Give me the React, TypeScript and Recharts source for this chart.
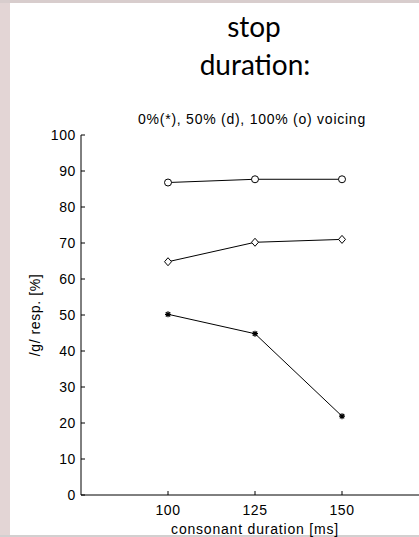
import React from "react";
import { LineChart, Line, XAxis, YAxis } from "recharts";

const durations = [100, 125, 150];
const voiced100 = [86.8, 87.7, 87.7];
const voiced50 = [64.8, 70.2, 71.0];
const voiced0 = [50.2, 44.8, 21.9];
const xTicks = [100, 125, 150];
const yTicks = [0, 10, 20, 30, 40, 50, 60, 70, 80, 90, 100];

const data = durations.map((d, i) => ({
  d,
  o: voiced100[i],
  dm: voiced50[i],
  s: voiced0[i],
}));

const FONT = "'Liberation Sans', Arial, sans-serif";

const CircleDot = (p: any) => (
  <circle key={`c${p.index}`} cx={p.cx} cy={p.cy} r={3.5} fill="#fff" stroke="#000" strokeWidth={1} />
);
const DiamondDot = (p: any) => (
  <path
    key={`d${p.index}`}
    d={`M${p.cx},${p.cy - 4} L${p.cx + 3.5},${p.cy} L${p.cx},${p.cy + 4} L${p.cx - 3.5},${p.cy} Z`}
    fill="#fff"
    stroke="#000"
    strokeWidth={1}
  />
);
const StarDot = (p: any) => {
  const r = 3;
  const q = 2.2;
  return (
    <path
      key={`s${p.index}`}
      d={`M${p.cx - r},${p.cy} L${p.cx + r},${p.cy} M${p.cx},${p.cy - r} L${p.cx},${p.cy + r} M${p.cx - q},${p.cy - q} L${p.cx + q},${p.cy + q} M${p.cx - q},${p.cy + q} L${p.cx + q},${p.cy - q}`}
      stroke="#000"
      strokeWidth={1.2}
      fill="none"
    />
  );
};

const YTick = (p: any) => (
  <g>
    <line x1={p.x} y1={p.y} x2={p.x + 4} y2={p.y} stroke="#000" strokeWidth={1} />
    <text x={p.x - 5} y={p.y + 5} textAnchor="end" fontSize={14} fontFamily={FONT} fill="#000" letterSpacing={0.6}>
      {p.payload.value}
    </text>
  </g>
);
const XTick = (p: any) => (
  <g>
    <line x1={p.x} y1={p.y} x2={p.x} y2={p.y - 4} stroke="#000" strokeWidth={1} />
    <text x={p.x} y={p.y + 20} textAnchor="middle" fontSize={14} fontFamily={FONT} fill="#000" letterSpacing={0.6}>
      {p.payload.value}
    </text>
  </g>
);

export default function App() {
  return (
    <div
      style={{
        position: "fixed",
        left: 0,
        top: 0,
        width: 419,
        height: 537,
        overflow: "hidden",
        background: "#fff",
      }}
    >
      <div style={{ position: "absolute", left: 0, top: 0, width: 10, height: 537, background: "#e3d5d5" }} />
      <div style={{ position: "absolute", left: 0, top: 0, width: 419, height: 3, background: "#d8cdcd" }} />
      <div style={{ position: "absolute", left: 0, top: 535, width: 419, height: 2, background: "#d2d0d0" }} />
      <div style={{ position: "absolute", left: 0, top: 0 }}>
        <LineChart width={440} height={537} data={data} margin={{ top: 135, right: 11, bottom: 0, left: 31 }}>
          <XAxis
            dataKey="d"
            type="number"
            domain={[75, 175]}
            ticks={xTicks}
            height={42}
            tickSize={0}
            tickMargin={0}
            tickLine={false}
            tick={XTick}
            axisLine={{ stroke: "#000", strokeWidth: 1 }}
            allowDataOverflow
          />
          <YAxis
            type="number"
            domain={[0, 100]}
            ticks={yTicks}
            width={50}
            tickSize={0}
            tickMargin={0}
            tickLine={false}
            tick={YTick}
            axisLine={{ stroke: "#000", strokeWidth: 1 }}
            interval={0}
          />
          <Line dataKey="o" stroke="#000" strokeWidth={1} dot={CircleDot} isAnimationActive={false} />
          <Line dataKey="dm" stroke="#000" strokeWidth={1} dot={DiamondDot} isAnimationActive={false} />
          <Line dataKey="s" stroke="#000" strokeWidth={1} dot={StarDot} isAnimationActive={false} />
        </LineChart>
      </div>
      <svg width={419} height={537} style={{ position: "absolute", left: 0, top: 0, pointerEvents: "none" }}>
        <text x={254} y={37} textAnchor="middle" fontSize={28} fontFamily="Lato, 'Open Sans', sans-serif" fill="#000">
          stop
        </text>
        <text x={255} y={75} textAnchor="middle" fontSize={28} fontFamily="Lato, 'Open Sans', sans-serif" fill="#000">
          duration:
        </text>
        <text x={252} y={124} textAnchor="middle" fontSize={14} fontFamily={FONT} fill="#000" letterSpacing={0.75}>
          0%(*), 50% (d), 100% (o) voicing
        </text>
        <text
          x={0}
          y={0}
          transform="translate(40,315) rotate(-90)"
          textAnchor="middle"
          fontSize={14}
          fontFamily={FONT}
          fill="#000"
          letterSpacing={0.6}
        >
          /g/ resp. [%]
        </text>
        <text x={255} y={534} textAnchor="middle" fontSize={14} fontFamily={FONT} fill="#000" letterSpacing={0.8}>
          consonant duration [ms]
        </text>
      </svg>
    </div>
  );
}
